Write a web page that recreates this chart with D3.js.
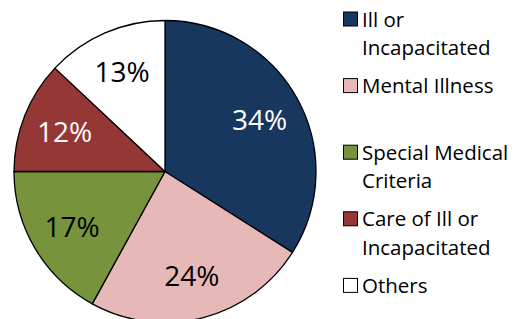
<!DOCTYPE html>
<html>
<head>
<meta charset="utf-8">
<script src="https://cdn.jsdelivr.net/npm/d3@7"></script>
<style>
  html, body { margin: 0; padding: 0; background: #fff; }
  svg { display: block; font-family: "Open Sans", sans-serif; }
</style>
</head>
<body>
<svg id="chart" width="519" height="319"></svg>
<script>
// pie of reasons, clockwise from 12 o'clock
const categories = ['Ill or Incapacitated', 'Mental Illness', 'Special Medical Criteria', 'Care of Ill or Incapacitated', 'Others'];
const legendLines = [['Ill or', 'Incapacitated'], ['Mental Illness'], ['Special Medical', 'Criteria'], ['Care of Ill or', 'Incapacitated'], ['Others']];
const values = [34, 24, 17, 12, 13];
const colors = ['#17375E', '#E6B9B8', '#77933C', '#953735', '#FFFFFF'];
const labelColors = ['#fff', '#000', '#000', '#fff', '#000'];

const svg = d3.select('#chart');
const cx = 165, cy = 171.5, R = 151;

const color = d3.scaleOrdinal().domain(categories).range(colors);
const pie = d3.pie().sort(null).value(d => d.value);
const data = categories.map((c, i) => ({ name: c, value: values[i], i }));
const arcs = pie(data);

const arc = d3.arc().innerRadius(0).outerRadius(R);
const labelArc = d3.arc().innerRadius(108).outerRadius(108);

const g = svg.append('g').attr('transform', `translate(${cx},${cy})`);

g.selectAll('path')
  .data(arcs)
  .join('path')
  .attr('d', arc)
  .attr('fill', d => color(d.data.name))
  .attr('stroke', '#000')
  .attr('stroke-width', 1.3)
  .attr('stroke-linejoin', 'round');

g.selectAll('text.lbl')
  .data(arcs)
  .join('text')
  .attr('class', 'lbl')
  .attr('transform', d => `translate(${labelArc.centroid(d)})`)
  .attr('text-anchor', 'middle')
  .attr('dy', '0.36em')
  .style('font-size', '28px')
  .attr('fill', d => labelColors[d.data.i])
  .text(d => d.data.value + '%');

// legend
const legend = svg.append('g');
const item = legend.selectAll('g')
  .data(data)
  .join('g')
  .attr('transform', d => `translate(343, ${26.5 + 66.6 * d.i})`);

item.append('rect')
  .attr('x', 0.5)
  .attr('y', -14.5)
  .attr('width', 14)
  .attr('height', 14)
  .attr('fill', d => color(d.name))
  .attr('stroke', '#000')
  .attr('stroke-width', 1);

item.append('text')
  .attr('x', 19)
  .style('font-size', '20.5px')
  .attr('fill', '#000')
  .selectAll('tspan')
  .data(d => legendLines[d.i])
  .join('tspan')
  .attr('x', 19)
  .attr('dy', (d, j) => j === 0 ? 0 : 28.5)
  .text(d => d);
</script>
</body>
</html>
